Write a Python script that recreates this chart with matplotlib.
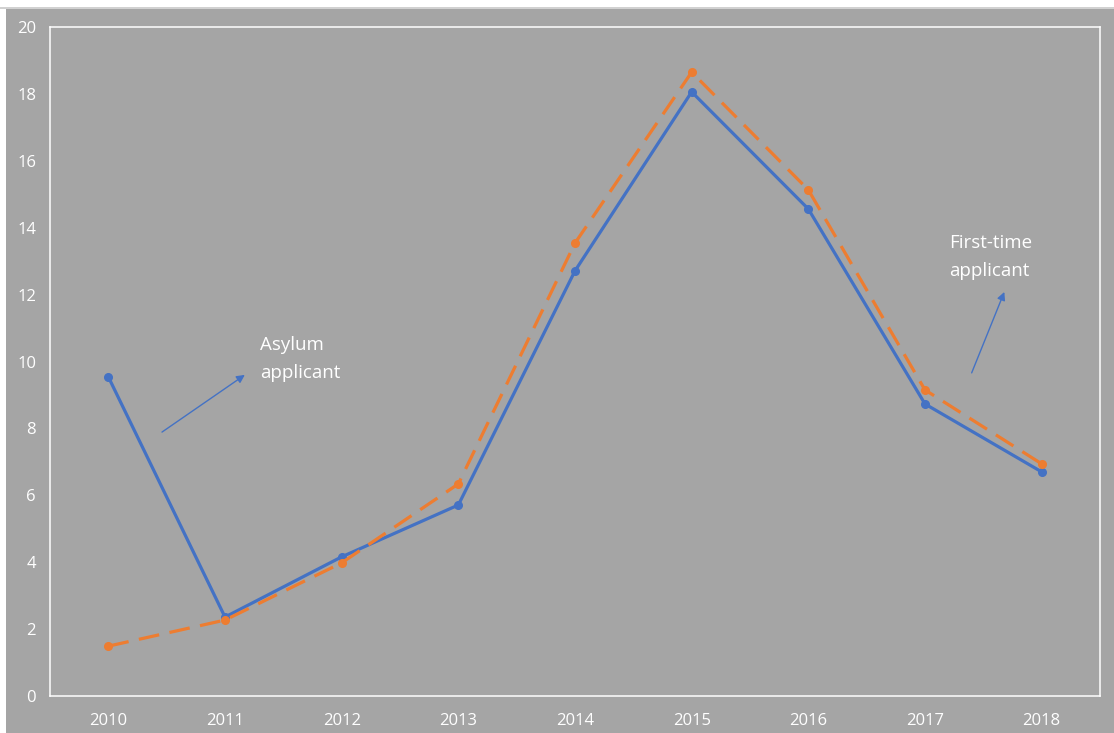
import matplotlib.pyplot as plt
from matplotlib.patches import Rectangle
from matplotlib.lines import Line2D

years = ["2010", "2011", "2012", "2013", "2014", "2015", "2016", "2017", "2018"]
asylum = [9.54, 2.36, 4.16, 5.71, 12.71, 18.06, 14.56, 8.73, 6.70]
first_time = [1.49, 2.27, 3.98, 6.34, 13.54, 18.65, 15.13, 9.15, 6.94]
y_ticks = [0, 2, 4, 6, 8, 10, 12, 14, 16, 18, 20]

BG = "#A5A5A5"
BLUE = "#4472C4"
ORANGE = "#ED7D31"
FONT = ["Open Sans", "DejaVu Sans"]

W, H = 1114, 733
fig = plt.figure(figsize=(W / 100, H / 100), dpi=100, facecolor="white")

# grey chart area with a faint top rule, kept behind the axes
fig.patches.append(Rectangle((6 / W, 0), 1 - 6 / W, (H - 9) / H,
                             transform=fig.transFigure, facecolor=BG,
                             edgecolor="none", zorder=-2))
fig.lines.append(Line2D([0, 1], [(H - 8) / H, (H - 8) / H],
                        transform=fig.transFigure, color="#C8C8C8", lw=1.2,
                        zorder=-1))

ax = fig.add_axes([50 / W, 37 / H, 1050 / W, 669 / H])
ax.set_facecolor(BG)
for s in ax.spines.values():
    s.set_color("white")
    s.set_linewidth(1.1)

x = list(range(len(years)))
ax.plot(x, asylum, color=BLUE, lw=2.3, marker="o", ms=5.5, zorder=3,
        solid_capstyle="round")
ax.plot(x, first_time, color=ORANGE, lw=2.3, marker="o", ms=5.5, zorder=4,
        dashes=(6.5, 3.3))

ax.set_xlim(-0.5, len(years) - 0.5)
ax.set_ylim(0, 20)
ax.set_xticks(x)
ax.set_xticklabels(years)
ax.set_yticks(y_ticks)
ax.tick_params(length=0, colors="white", labelsize=12)
ax.tick_params(axis="y", pad=10)
ax.tick_params(axis="x", pad=12.5)
for lab in ax.get_xticklabels() + ax.get_yticklabels():
    lab.set_family(FONT)

# callouts
ax.annotate("", xy=(1.17, 9.6), xytext=(0.46, 7.89),
            arrowprops=dict(arrowstyle="-|>", color=BLUE, lw=1,
                            mutation_scale=12, shrinkA=0, shrinkB=0))
ax.text(1.30, 10.76, "Asylum\napplicant", color="white", fontsize=13.5,
        family=FONT, va="top", ha="left", linespacing=1.7)

ax.annotate("", xy=(7.68, 12.08), xytext=(7.40, 9.66),
            arrowprops=dict(arrowstyle="-|>", color=BLUE, lw=1,
                            mutation_scale=12, shrinkA=0, shrinkB=0))
ax.text(7.21, 13.8, "First-time\napplicant", color="white", fontsize=13.5,
        family=FONT, va="top", ha="left", linespacing=1.7)

fig.savefig("out.png", dpi=100, facecolor=fig.get_facecolor())
